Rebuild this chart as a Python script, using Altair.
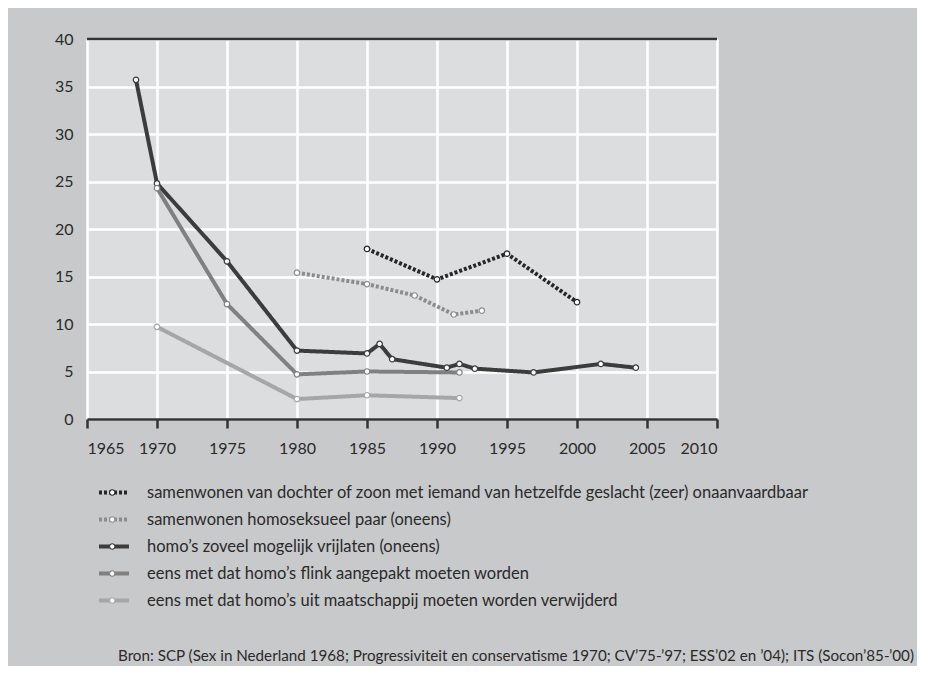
import altair as alt
import pandas as pd

series = [
    "samenwonen van dochter of zoon met iemand van hetzelfde geslacht (zeer) onaanvaardbaar",
    "samenwonen homoseksueel paar (oneens)",
    "homo’s zoveel mogelijk vrijlaten (oneens)",
    "eens met dat homo’s flink aangepakt moeten worden",
    "eens met dat homo’s uit maatschappij moeten worden verwijderd",
]

years_1 = [1985, 1990, 1995, 2000]
vals_1 = [17.9, 14.7, 17.4, 12.3]

years_2 = [1980, 1985, 1988.4, 1991.2, 1993.2]
vals_2 = [15.4, 14.2, 13.0, 11.0, 11.4]

years_3 = [1968.5, 1970, 1975, 1980, 1985, 1985.9, 1986.8, 1990.7, 1991.6, 1992.7, 1996.9, 2001.7, 2004.2]
vals_3 = [35.7, 24.8, 16.6, 7.2, 6.9, 7.9, 6.3, 5.4, 5.8, 5.3, 4.9, 5.8, 5.4]

years_4 = [1970, 1975, 1980, 1985, 1991.6]
vals_4 = [24.3, 12.1, 4.7, 5.0, 4.9]

years_5 = [1970, 1980, 1985, 1991.6]
vals_5 = [9.7, 2.1, 2.5, 2.2]

x_ticks = [1965, 1970, 1975, 1980, 1985, 1990, 1995, 2000, 2005, 2010]
y_ticks = [0, 5, 10, 15, 20, 25, 30, 35, 40]

source = "Bron: SCP (Sex in Nederland 1968; Progressiviteit en conservatisme 1970; CV’75-’97; ESS’02 en ’04); ITS (Socon’85-’00)"

colors = ["#262626", "#8c8c8c", "#3c3c3c", "#808080", "#a6a6a6"]
dashes = [[3, 2], [3, 2], [1, 0], [1, 0], [1, 0]]

# marker legend uses its own (unlabelled) copy of the series names
markers = [s + " " for s in series]

rows = []
for name, mk, ys, vs in zip(series, markers, [years_1, years_2, years_3, years_4, years_5],
                            [vals_1, vals_2, vals_3, vals_4, vals_5]):
    for y, v in zip(ys, vs):
        rows.append({"serie": name, "reeks": mk, "jaar": y, "waarde": v})
df = pd.DataFrame(rows)

FONT = "Lato"
TXT = "#2a2a2a"

x_enc = alt.X("jaar:Q", scale=alt.Scale(domain=[1965, 2010], nice=False, zero=False),
              axis=alt.Axis(values=x_ticks, format="d", title=None, grid=True,
                            gridColor="white", gridWidth=2.5,
                            domainColor="#333333", domainWidth=2.5,
                            tickColor="#333333", tickWidth=2.5, tickSize=9,
                            labelFontSize=16, labelColor=TXT, labelPadding=12,
                            labelFont=FONT))
y_enc = alt.Y("waarde:Q", scale=alt.Scale(domain=[0, 40], nice=False),
              axis=alt.Axis(values=y_ticks, title=None, grid=True,
                            gridColor="white", gridWidth=2.5, domain=False, ticks=False,
                            labelFontSize=16, labelColor=TXT, labelPadding=14,
                            labelFont=FONT))

base = alt.Chart(df)

lines = base.mark_line(strokeWidth=4, strokeCap="butt", strokeJoin="round").encode(
    x=x_enc,
    y=y_enc,
    color=alt.Color("serie:N", scale=alt.Scale(domain=series, range=colors), title=None,
                    legend=alt.Legend(orient="none", legendX=10, legendY=440,
                                      symbolType="stroke", symbolSize=900,
                                      symbolStrokeWidth=4, clipHeight=27,
                                      rowPadding=0, labelOffset=16, padding=0,
                                      labelFontSize=16.5, labelFont=FONT,
                                      labelColor=TXT, labelLimit=900)),
    strokeDash=alt.StrokeDash("serie:N", scale=alt.Scale(domain=series, range=dashes),
                              title=None),
)

points = base.mark_point(filled=True, fill="white", size=30, strokeWidth=1.2, opacity=1).encode(
    x="jaar:Q",
    y="waarde:Q",
    stroke=alt.Stroke("reeks:N", scale=alt.Scale(domain=markers, range=colors), title=None,
                      legend=alt.Legend(orient="none", legendX=17, legendY=440,
                                        symbolType="circle", symbolSize=30,
                                        symbolFillColor="white", symbolStrokeWidth=1.2,
                                        symbolOpacity=1,
                                        clipHeight=27, rowPadding=0, padding=0,
                                        labelExpr="''", labelFontSize=16.5,
                                        labelFont=FONT)),
)

top_rule = alt.Chart(pd.DataFrame({"a": [1965], "b": [2010], "c": [40]})).mark_rule(
    color="#333333", strokeWidth=2.5).encode(
    x="a:Q", x2="b:Q", y="c:Q")

chart = alt.layer(lines, points, top_rule).properties(
    width=630, height=380,
    autosize=alt.AutoSizeParams(type="none"),
    padding={"left": 79, "top": 31, "right": 200, "bottom": 247},
    background="#c8c9cb",
    title=alt.TitleParams(source, orient="bottom", anchor="start", frame="group",
                          offset=35, dx=31, fontSize=15.2, font=FONT,
                          fontWeight="normal", color=TXT),
).configure_view(fill="#dcdddf", stroke=None)

chart.save("out.html", embed_options={"renderer": "svg", "actions": False})
